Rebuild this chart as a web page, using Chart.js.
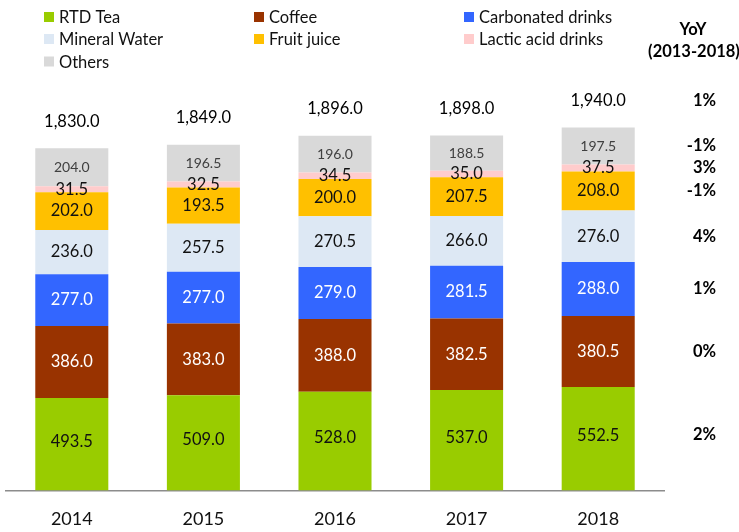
<!DOCTYPE html>
<html>
<head>
<meta charset="utf-8">
<script src="https://cdn.jsdelivr.net/npm/chart.js@4/dist/chart.umd.min.js"></script>
<style>
  html, body { margin: 0; padding: 0; background: #fff; }
  #wrap { width: 739px; height: 532px; position: relative; }
</style>
</head>
<body>
<div id="wrap"><canvas id="c" width="739" height="532"></canvas></div>
<script>
const years = ['2014', '2015', '2016', '2017', '2018'];
const rtdTea = [493.5, 509.0, 528.0, 537.0, 552.5];
const coffee = [386.0, 383.0, 388.0, 382.5, 380.5];
const carbonated = [277.0, 277.0, 279.0, 281.5, 288.0];
const mineralWater = [236.0, 257.5, 270.5, 266.0, 276.0];
const fruitJuice = [202.0, 193.5, 200.0, 207.5, 208.0];
const lacticAcid = [31.5, 32.5, 34.5, 35.0, 37.5];
const others = [204.0, 196.5, 196.0, 188.5, 197.5];
const totals = [1830.0, 1849.0, 1896.0, 1898.0, 1940.0];
const seriesNames = ['RTD Tea', 'Coffee', 'Carbonated drinks', 'Mineral Water', 'Fruit juice', 'Lactic acid drinks', 'Others'];
const yoySeries = ['2%', '0%', '1%', '4%', '-1%', '3%', '-1%'];
const yoyTotal = '1%';
const yoyTitle = ['YoY', '(2013-2018)'];

const colors = ['#99CC00', '#993300', '#3366FF', '#DDE8F4', '#FFC000', '#FFCCCC', '#D9D9D9'];
const labelColors = ['#111111', '#FFFFFF', '#FFFFFF', '#111111', '#111111', '#111111', '#404040'];
const labelSizes = [16.5, 16.5, 16.5, 16.5, 16.5, 16.5, 14];
const seriesData = [rtdTea, coffee, carbonated, mineralWater, fruitJuice, lacticAcid, others];

const FONT = 'Lato, "Open Sans", sans-serif';
const fmt = v => v.toLocaleString('en-US', { minimumFractionDigits: 1, maximumFractionDigits: 1 });

const datasets = seriesNames.map((name, i) => ({
  label: name,
  data: seriesData[i],
  backgroundColor: colors[i],
  borderWidth: 0,
  stack: 's'
}));

const overlay = {
  id: 'overlay',
  afterDatasetsDraw(chart) {
    const ctx = chart.ctx;
    ctx.save();
    ctx.textAlign = 'center';
    ctx.textBaseline = 'middle';
    // segment labels
    chart.data.datasets.forEach((ds, di) => {
      const meta = chart.getDatasetMeta(di);
      meta.data.forEach((bar, i) => {
        const v = ds.data[i];
        ctx.fillStyle = labelColors[di];
        ctx.font = labelSizes[di] + 'px ' + FONT;
        ctx.fillText(fmt(v), bar.x, (bar.y + bar.base) / 2 - (di === 0 ? 3 : 0));
      });
    });
    // totals
    const topMeta = chart.getDatasetMeta(chart.data.datasets.length - 1);
    ctx.font = '16.5px ' + FONT;
    ctx.fillStyle = '#000';
    topMeta.data.forEach((bar, i) => {
      ctx.fillText(fmt(totals[i]), bar.x, bar.y - 27);
    });
    // YoY column
    const last = years.length - 1;
    const xr = 716;
    ctx.font = 'bold 16.5px ' + FONT;
    ctx.fillStyle = '#000';
    ctx.textAlign = 'center';
    ctx.fillText(yoyTitle[0], 693, 30);
    ctx.fillText(yoyTitle[1], 694, 52);
    ctx.textAlign = 'right';
    chart.data.datasets.forEach((ds, di) => {
      const bar = chart.getDatasetMeta(di).data[last];
      ctx.fillText(yoySeries[di], xr, (bar.y + bar.base) / 2 - (di === 0 ? 4 : 0));
    });
    ctx.fillText(yoyTotal, xr, topMeta.data[last].y - 27);
    // legend
    const cols = [44, 254, 464];
    const rows = [17, 39, 61.5];
    ctx.textAlign = 'left';
    ctx.font = '16.5px ' + FONT;
    chart.data.datasets.forEach((ds, di) => {
      const cx = cols[di % 3], cy = rows[Math.floor(di / 3)];
      ctx.fillStyle = ds.backgroundColor;
      ctx.fillRect(cx, cy - 5, 10, 10);
      ctx.fillStyle = '#111';
      ctx.fillText(ds.label, cx + 15, cy + 1);
    });
    ctx.restore();
  }
};

new Chart(document.getElementById('c'), {
  type: 'bar',
  data: { labels: years, datasets },
  plugins: [overlay],
  options: {
    responsive: false,
    animation: false,
    events: [],
    layout: { padding: { top: 79, left: 6, right: 75, bottom: -16 } },
    datasets: { bar: { barPercentage: 0.555, categoryPercentage: 1.0 } },
    plugins: { legend: { display: false }, tooltip: { enabled: false }, title: { display: false } },
    scales: {
      x: {
        stacked: true,
        grid: { display: false, drawTicks: false },
        border: { display: true, color: '#8C8C8C', width: 1.5 },
        ticks: { color: '#111', font: { family: FONT, size: 18 }, padding: 18 }
      },
      y: {
        stacked: true,
        display: false,
        min: 0,
        max: 2200
      }
    }
  }
});
</script>
</body>
</html>
